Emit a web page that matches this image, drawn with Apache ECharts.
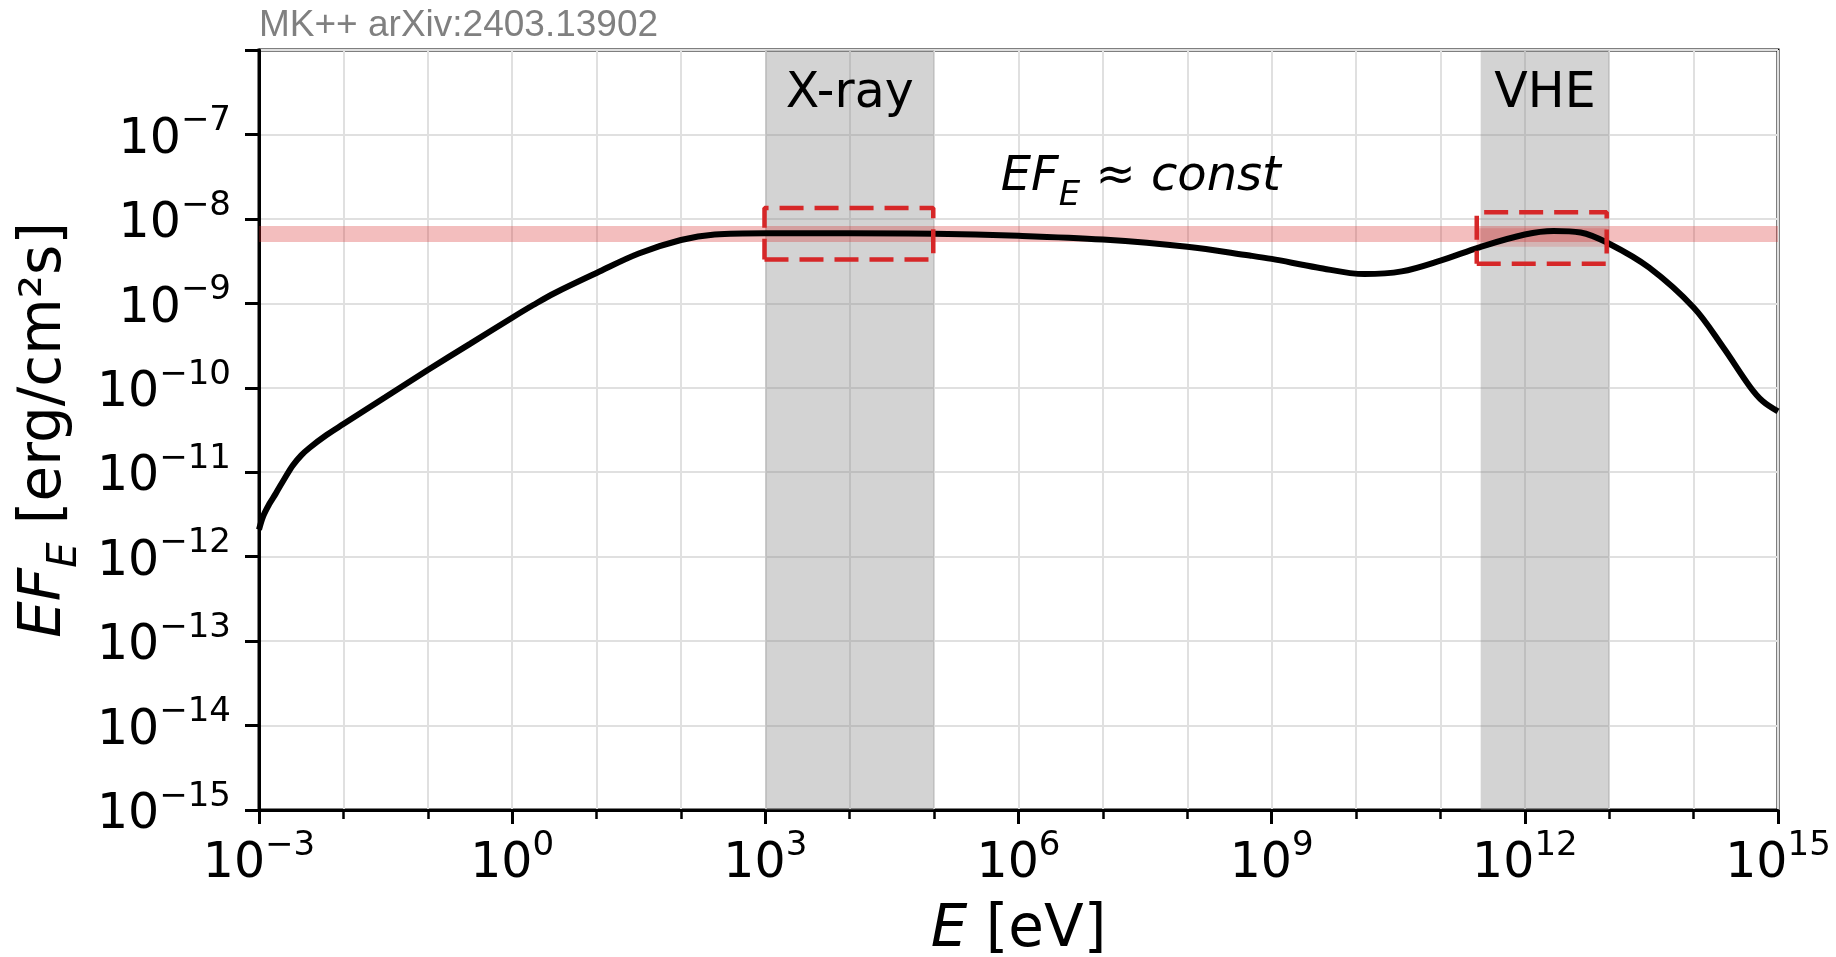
<!DOCTYPE html>
<html><head><meta charset="utf-8">
<script src="https://cdn.jsdelivr.net/npm/echarts@6/dist/echarts.min.js"></script>
<style>html,body{margin:0;padding:0;background:#fff}#c{width:1836px;height:957px}</style>
</head><body><div id="c"></div>
<script>
// ---- data (log10 values) ----
const log10E = [-3.0, -2.95, -2.88, -2.80, -2.70, -2.60, -2.50, -2.40, -2.20, -2.00, -1.50, -1.00, -0.50, 0.00, 0.25, 0.50, 1.00, 1.50, 2.00, 2.40, 3.00, 4.00, 5.00, 6.00, 7.00, 8.00, 8.74, 9.00, 9.54, 10.10, 10.54, 11.00, 11.47, 12.00, 12.34, 12.66, 13.00, 13.47, 14.00, 14.35, 14.67, 14.82, 15.00];
const log10EFE = [-11.68, -11.52, -11.38, -11.25, -11.08, -10.92, -10.80, -10.71, -10.56, -10.43, -10.11, -9.79, -9.48, -9.17, -9.02, -8.88, -8.64, -8.41, -8.25, -8.185, -8.17, -8.17, -8.175, -8.20, -8.245, -8.33, -8.434, -8.474, -8.575, -8.654, -8.622, -8.494, -8.333, -8.185, -8.143, -8.161, -8.294, -8.575, -9.05, -9.52, -9.99, -10.16, -10.28];

const xTickExps = [-3, 0, 3, 6, 9, 12, 15];
const yTickExps = [-15, -14, -13, -12, -11, -10, -9, -8, -7];

const bandNames = ['X-ray', 'VHE'];
const bandFrom = [3.0, 11.477];
const bandTo = [5.0, 13.0];
const bandLabelY = -6.52;

const constBandLow = -8.275;
const constBandHigh = -8.085;

const boxXFrom = [2.99, 11.43];
const boxXTo = [4.99, 12.97];
const boxYLow = [-8.48, -8.53];
const boxYHigh = [-7.87, -7.92];

const vheInnerLow = -8.33;
const vheInnerHigh = -8.11;

const constLabelPos = [7.45, -7.58];

// ---- chart ----
const FONT = 'DejaVu Sans';
const supStr = e => (e < 0 ? '\u2212' + (-e) : '' + e);
const tickFmt = v => '{b|10}{s|' + supStr(Math.round(v)) + '}';
const richTick = {
  b: {fontSize: 49, fontFamily: FONT, color: '#000', lineHeight: 60, verticalAlign: 'bottom'},
  s: {fontSize: 34, fontFamily: FONT, color: '#000', lineHeight: 34, verticalAlign: 'top'}
};

const rect = i => [
  [boxXFrom[i], boxYLow[i]], [boxXTo[i], boxYLow[i]], [boxXTo[i], boxYHigh[i]],
  [boxXFrom[i], boxYHigh[i]], [boxXFrom[i], boxYLow[i]]
];

const chart = echarts.init(document.getElementById('c'), null, {renderer: 'canvas'});
chart.setOption({
  animation: false,
  backgroundColor: '#fff',
  title: {
    text: 'MK++ arXiv:2403.13902', left: 254, top: 2,
    textStyle: {fontSize: 37, fontFamily: 'Liberation Sans', color: '#808080', fontWeight: 'normal'}
  },
  grid: {left: 259, top: 50, width: 1519, height: 760, show: true, borderColor: '#000', borderWidth: 3,
    backgroundColor: 'transparent', containLabel: false, outerBoundsMode: 'none'},
  xAxis: {
    type: 'value', min: xTickExps[0], max: xTickExps[xTickExps.length - 1], interval: 3,
    axisLine: {show: true, onZero: false, lineStyle: {color: '#000', width: 3}},
    axisTick: {show: true, length: 14, lineStyle: {color: '#000', width: 3}},
    minorTick: {show: true, splitNumber: 3, length: 9, lineStyle: {color: '#000', width: 2.5}},
    splitLine: {show: true, lineStyle: {color: '#e0e0e0', width: 2}},
    minorSplitLine: {show: true, lineStyle: {color: '#e0e0e0', width: 2}},
    axisLabel: {formatter: tickFmt, rich: richTick, margin: 19, showMinLabel: true, showMaxLabel: true},
    name: '{i|E}{n| [eV]}', nameLocation: 'middle', nameGap: 92,
    nameTextStyle: {rich: {
      i: {fontSize: 58, fontFamily: FONT, fontStyle: 'italic', color: '#000'},
      n: {fontSize: 58, fontFamily: FONT, color: '#000'}
    }}
  },
  yAxis: {
    type: 'value', min: -15, max: -6, interval: 1,
    axisLine: {show: true, onZero: false, lineStyle: {color: '#000', width: 3}},
    axisTick: {show: true, length: 14, lineStyle: {color: '#000', width: 3}},
    splitLine: {show: true, lineStyle: {color: '#e0e0e0', width: 2}},
    axisLabel: {formatter: v => (yTickExps.indexOf(Math.round(v)) >= 0 ? tickFmt(v) : ''), rich: richTick, margin: 28},
    name: '{i|EF}{sub|E}{n| [erg/cm\u00b2s]}', nameLocation: 'middle', nameGap: 164, nameRotate: 90,
    nameTextStyle: {rich: {
      i: {fontSize: 58, fontFamily: FONT, fontStyle: 'italic', color: '#000', lineHeight: 70, verticalAlign: 'top'},
      sub: {fontSize: 40, fontFamily: FONT, fontStyle: 'italic', color: '#000', lineHeight: 42, verticalAlign: 'bottom'},
      n: {fontSize: 58, fontFamily: FONT, color: '#000', lineHeight: 70, verticalAlign: 'top'}
    }}
  },
  series: [
    {
      type: 'line', data: [], z: 1, silent: true,
      markArea: {silent: true, itemStyle: {color: 'rgba(128,128,128,0.345)'},
        data: bandFrom.map((f, i) => [{xAxis: f}, {xAxis: bandTo[i]}])}
    },
    {
      type: 'line', data: [], z: 2, silent: true,
      markArea: {silent: true, itemStyle: {color: 'rgba(214,39,40,0.3)'},
        data: [[{yAxis: constBandLow}, {yAxis: constBandHigh}]]}
    },
    {
      type: 'line', data: [], z: 3, silent: true,
      markArea: {silent: true, itemStyle: {color: 'rgba(214,39,40,0.18)'},
        data: [[{xAxis: boxXFrom[1], yAxis: vheInnerLow}, {xAxis: boxXTo[1], yAxis: vheInnerHigh}]]}
    },
    {
      type: 'line', z: 5, silent: true,
      data: log10E.map((x, i) => [x, log10EFE[i]]),
      symbol: 'none', smooth: 0.35,
      lineStyle: {color: '#000', width: 6}
    },
    {
      type: 'line', z: 6, silent: true, data: rect(0), symbol: 'none',
      lineStyle: {color: '#d62728', width: 4.5, type: [24, 11]}
    },
    {
      type: 'line', z: 6, silent: true, data: rect(1), symbol: 'none',
      lineStyle: {color: '#d62728', width: 4.5, type: [24, 11]}
    },
    {
      type: 'scatter', z: 7, silent: true, symbolSize: 0,
      data: [
        {value: [(bandFrom[0] + bandTo[0]) / 2, bandLabelY], name: bandNames[0]},
        {value: [(bandFrom[1] + bandTo[1]) / 2, bandLabelY], name: bandNames[1]}
      ],
      label: {show: true, position: 'inside', formatter: p => p.name, fontSize: 49, fontFamily: FONT, color: '#000', opacity: 1}
    },
    {
      type: 'scatter', z: 7, silent: true, symbolSize: 0,
      data: [{value: constLabelPos}],
      label: {show: true, position: 'inside', opacity: 1,
        formatter: '{i|EF}{sub|E}{n| \u2248 }{i|const}',
        rich: {
          i: {fontSize: 48, fontFamily: FONT, fontStyle: 'italic', color: '#000', lineHeight: 60, verticalAlign: 'top'},
          sub: {fontSize: 34, fontFamily: FONT, fontStyle: 'italic', color: '#000', lineHeight: 34, verticalAlign: 'bottom'},
          n: {fontSize: 48, fontFamily: FONT, color: '#000', lineHeight: 60, verticalAlign: 'top'}
        }
      }
    }
  ]
});
</script>
</body></html>
